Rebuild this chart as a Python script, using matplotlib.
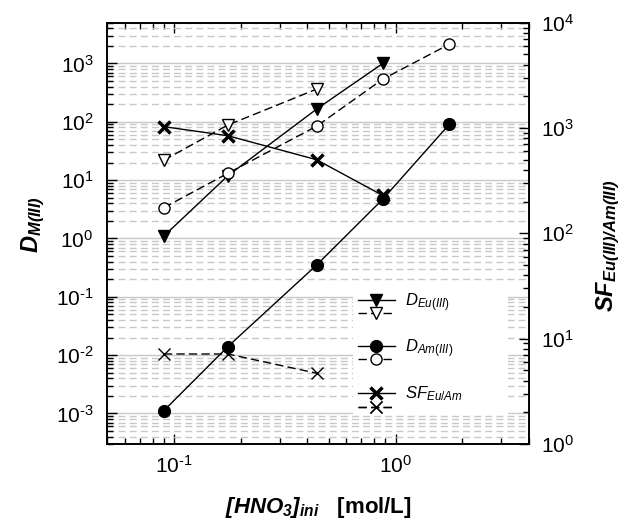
import numpy as np
import matplotlib
matplotlib.use("Agg")
import matplotlib.pyplot as plt
from matplotlib.lines import Line2D
from matplotlib.patches import Rectangle
from matplotlib.ticker import LogLocator, NullFormatter, FuncFormatter

plt.rcParams['font.family'] = ['Liberation Sans', 'DejaVu Sans']
plt.rcParams['mathtext.fontset'] = 'custom'
plt.rcParams['mathtext.rm'] = 'Liberation Sans'
plt.rcParams['mathtext.it'] = 'Liberation Sans:italic'
plt.rcParams['mathtext.bf'] = 'Liberation Sans:italic:bold'
plt.rcParams['axes.unicode_minus'] = False

# [HNO3]ini in mol/L
hno3 = [0.09, 0.175, 0.44, 0.875, 1.75]

# D values (left axis), solid = filled markers, dashed = open markers
d_eu_solid = [1.1, 11.9, 165, 1000]
d_eu_dash = [22, 88, 363]
d_am_solid = [1.12e-3, 0.014, 0.35, 4.7, 91]
d_am_dash = [3.37, 13.1, 84, 538, 2140]

# separation factors (right axis)
sf_solid = [1030, 845, 500, 229]
sf_dash = [7.15, 7.15, 4.7]

legend_labels = [r'$\mathit{D_{Eu(III)}}$', r'$\mathit{D_{Am(III)}}$', r'$\mathit{SF_{Eu/Am}}$']

DASH = (0, (6, 3))
GRID_C = '#c8c8c8'


def pow10(v, pos):
    e = int(round(np.log10(v)))
    s = str(e).replace('-', '\u2010')  # short hyphen like the original
    return r'$\mathdefault{10^{%s}}$' % s


fig = plt.figure(figsize=(6.21, 5.24), dpi=100)
ax = fig.add_axes([0.1728, 0.1527, 0.679, 0.804])
ax2 = ax.twinx()

styles = [
    dict(marker='v', ms=8.5, mfc='k', mew=1),
    dict(marker='v', ms=8.5, mfc='white', mew=1, ls=DASH),
    dict(marker='o', ms=8.5, mfc='k', mew=1),
    dict(marker='o', ms=8, mfc='white', mew=1, ls=DASH),
    dict(marker='x', ms=9, mew=2.5),
    dict(marker='x', ms=8.5, mew=1, ls=DASH),
]

ax.plot(hno3[:4], d_eu_solid, color='k', lw=1, **styles[0])
ax.plot(hno3[:3], d_eu_dash, color='k', lw=1, **styles[1])
ax.plot(hno3, d_am_solid, color='k', lw=1, **styles[2])
ax.plot(hno3, d_am_dash, color='k', lw=1, **styles[3])
ax2.plot(hno3[:4], sf_solid, color='k', lw=1, **styles[4])
ax2.plot(hno3[:3], sf_dash, color='k', lw=1, **styles[5])

ax.set_xscale('log')
ax.set_yscale('log')
ax2.set_yscale('log')
ax.set_xlim(0.05, 4)
ax.set_ylim(3e-4, 5e3)
ax2.set_ylim(1, 1e4)

for a in (ax.yaxis, ax2.yaxis, ax.xaxis):
    a.set_major_locator(LogLocator(base=10, numticks=20))
    a.set_minor_locator(LogLocator(base=10, subs=np.arange(2, 10), numticks=20))
    a.set_major_formatter(FuncFormatter(pow10))
    a.set_minor_formatter(NullFormatter())

ax.grid(which='major', axis='y', color=GRID_C, lw=1, ls='-')
ax.grid(which='minor', axis='y', color=GRID_C, lw=1, ls=(0, (5, 3)))

ax.tick_params(which='both', direction='in', top=True, right=False, labelsize=15, width=1)
ax.tick_params(which='major', length=7)
ax.tick_params(which='minor', length=4)
ax.tick_params(axis='y', pad=10)
ax.tick_params(axis='x', pad=8)
ax2.tick_params(which='both', direction='in', labelsize=15, width=1, pad=9)
ax2.tick_params(which='major', length=7)
ax2.tick_params(which='minor', length=4)
for a in (ax, ax2):
    for s in a.spines.values():
        s.set_linewidth(1.2)

ax.set_xlabel(r'$\mathbf{[HNO_3]_{ini}}$   [mol/L]', fontsize=16, fontweight='bold')
ax.set_ylabel(r'$\mathbf{D_{M(III)}}$', fontsize=17)
ax2.set_ylabel(r'$\mathbf{SF_{Eu(III)/Am(III)}}$', fontsize=17)
ax.xaxis.set_label_coords(0.5, -0.12)
ax.yaxis.set_label_coords(-0.142, 0.52)
ax2.yaxis.set_label_coords(1.155, 0.47)

# legend block: white box, each handle row as its own legend
ax2.add_patch(Rectangle((0.583, 0.069), 0.367, 0.296, transform=ax2.transAxes,
                        facecolor='white', edgecolor='none', zorder=3))

row_y = [0.3378, 0.3086, 0.2286, 0.1977, 0.1187, 0.0847]
for st, ypos in zip(styles, row_y):
    h = Line2D([], [], color='k', lw=1, **st)
    leg = ax2.legend([h], [''], loc='center left', bbox_to_anchor=(0.5945, ypos),
                     frameon=False, fontsize=12, handlelength=2.2, handletextpad=0,
                     borderpad=0, borderaxespad=0, numpoints=1)
    leg.set_zorder(4)
    ax2.add_artist(leg)

for lab, ypos in zip(legend_labels, [0.326, 0.2166, 0.1085]):
    ax2.text(0.706, ypos, lab, transform=ax2.transAxes, fontsize=12,
             ha='left', va='baseline', zorder=5)

fig.savefig('out.png', dpi=100)
